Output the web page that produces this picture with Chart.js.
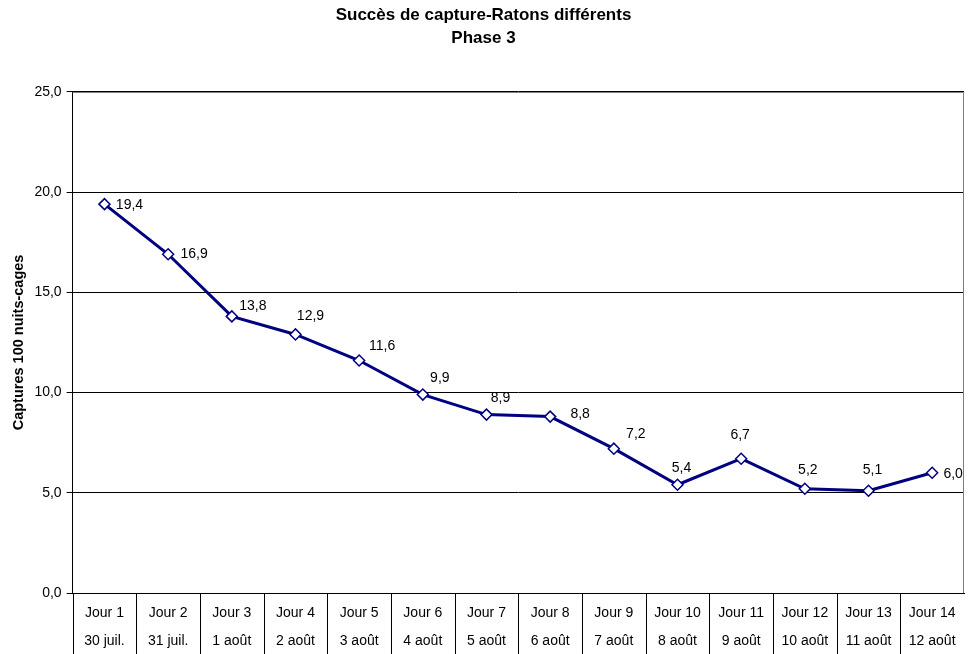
<!DOCTYPE html>
<html>
<head>
<meta charset="utf-8">
<title>Succès de capture-Ratons différents</title>
<script src="https://cdn.jsdelivr.net/npm/chart.js@4.4.1/dist/chart.umd.min.js"></script>
<style>
    html, body { margin: 0; padding: 0; background: #ffffff; }
    #wrap { width: 971px; height: 654px; position: relative; }
</style>
</head>
<body>
<div id="wrap"><canvas id="chart_1"></canvas></div>
<script>
/***** data *****/
var days = ["Jour 1", "Jour 2", "Jour 3", "Jour 4", "Jour 5", "Jour 6", "Jour 7",
    "Jour 8", "Jour 9", "Jour 10", "Jour 11", "Jour 12", "Jour 13", "Jour 14"];
var dates = ["30 juil.", "31 juil.", "1 août", "2 août", "3 août", "4 août", "5 août",
    "6 août", "7 août", "8 août", "9 août", "10 août", "11 août", "12 août"];
var captures = [19.4, 16.9, 13.8, 12.9, 11.6, 9.9, 8.9, 8.8, 7.2, 5.4, 6.7, 5.2, 5.1, 6.0];
var yTicks = [0, 5, 10, 15, 20, 25];

function frNum(v) {
    return v.toFixed(1).replace('.', ',');
}

/***** plugins *****/
// grey frame on top and right of the plot area (Excel style)
var plotFrame = {
    id: 'plotFrame',
    beforeDatasetsDraw: function (chart) {
        var a = chart.chartArea, ctx = chart.ctx;
        ctx.save();
        ctx.strokeStyle = '#808080';
        ctx.lineWidth = 1;
        ctx.beginPath();
        ctx.moveTo(a.left, Math.round(a.top) + 0.5);
        ctx.lineTo(Math.round(a.right) - 0.5, Math.round(a.top) + 0.5);
        ctx.lineTo(Math.round(a.right) - 0.5, a.bottom);
        ctx.stroke();
        ctx.restore();
    }
};

// vertical separators between the category cells under the x axis
var categoryCells = {
    id: 'categoryCells',
    afterDraw: function (chart) {
        var xs = chart.scales.x, ctx = chart.ctx;
        var top = chart.chartArea.bottom, bottom = chart.height;
        ctx.save();
        ctx.strokeStyle = '#000000';
        ctx.lineWidth = 1;
        ctx.beginPath();
        for (var i = 0; i < days.length; i++) {
            var x = Math.round(xs.getPixelForValue(i - 0.5)) + 0.5;
            ctx.moveTo(x, top);
            ctx.lineTo(x, bottom);
        }
        ctx.stroke();
        ctx.restore();
    }
};

// value labels next to each marker
var valueLabels = {
    id: 'valueLabels',
    afterDatasetsDraw: function (chart, args, opts) {
        var ctx = chart.ctx;
        var meta = chart.getDatasetMeta(0);
        var values = chart.data.datasets[0].data;
        ctx.save();
        ctx.font = '14px "Liberation Sans", Arial, sans-serif';
        ctx.fillStyle = '#000000';
        ctx.textAlign = 'center';
        ctx.textBaseline = 'middle';
        meta.data.forEach(function (pt, i) {
            var off = opts.offsets[i] || [0, -16];
            ctx.fillText(frNum(values[i]), pt.x + off[0], pt.y + off[1]);
        });
        ctx.restore();
    }
};

/***** chart *****/
var ctx1 = document.getElementById("chart_1").getContext("2d");
var labels = days.map(function (d, i) { return [d, dates[i]]; });

var lineChart = new Chart(ctx1, {
    type: 'line',
    data: {
        labels: labels,
        datasets: [{
            data: captures,
            borderColor: '#000080',
            borderWidth: 3,
            tension: 0,
            pointStyle: 'rectRot',
            pointRadius: 5.5,
            pointBackgroundColor: '#ffffff',
            pointBorderColor: '#000080',
            pointBorderWidth: 1.5
        }]
    },
    plugins: [plotFrame, categoryCells, valueLabels],
    options: {
        responsive: true,
        maintainAspectRatio: false,
        animation: false,
        layout: {
            padding: { top: 0, right: 4, bottom: -7, left: 0 }
        },
        plugins: {
            legend: { display: false },
            tooltip: { enabled: false },
            title: {
                display: true,
                text: ['Succès de capture-Ratons différents', 'Phase 3'],
                color: '#000000',
                font: { family: "'Liberation Sans', Arial, sans-serif", size: 17, weight: 'bold', lineHeight: 1.35 },
                padding: { top: 4, bottom: 42 }
            },
            valueLabels: {
                offsets: [[25, 1], [26, 0], [21, -10], [15, -18], [23, -14], [17, -16], [14, -16],
                    [30, -2], [22, -15], [4, -17], [-1, -24], [3, -19], [4, -21], [21, 1]]
            }
        },
        scales: {
            x: {
                offset: true,
                border: { display: true, color: '#000000', width: 1 },
                grid: {
                    offset: true,
                    drawOnChartArea: false,
                    drawTicks: false
                },
                ticks: {
                    autoSkip: false,
                    maxRotation: 0,
                    minRotation: 0,
                    padding: 6,
                    color: '#000000',
                    font: { family: "'Liberation Sans', Arial, sans-serif", size: 14, lineHeight: 2 }
                }
            },
            y: {
                min: 0,
                max: 25,
                afterBuildTicks: function (axis) {
                    axis.ticks = yTicks.map(function (v) { return { value: v }; });
                },
                border: { display: true, color: '#000000', width: 1 },
                grid: {
                    color: '#000000',
                    lineWidth: 1,
                    drawTicks: true,
                    tickLength: 6,
                    tickColor: '#000000'
                },
                ticks: {
                    padding: 5,
                    color: '#000000',
                    font: { family: "'Liberation Sans', Arial, sans-serif", size: 14 },
                    callback: function (v) { return frNum(v); }
                },
                title: {
                    display: true,
                    text: 'Captures 100 nuits-cages',
                    color: '#000000',
                    font: { family: "'Liberation Sans', Arial, sans-serif", size: 14.5, weight: 'bold' },
                    padding: { top: 10, bottom: 2 }
                }
            }
        }
    }
});
</script>
</body>
</html>
